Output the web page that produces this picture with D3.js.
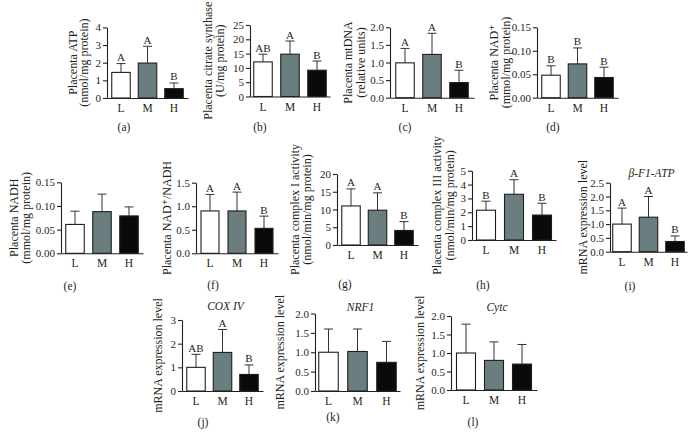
<!DOCTYPE html>
<html><head><meta charset="utf-8">
<script src="https://cdn.jsdelivr.net/npm/d3@7"></script>
<style>
html,body{margin:0;padding:0;background:#fff;}
svg{display:block;font-family:"Liberation Serif","DejaVu Serif",serif;}
</style></head><body>
<svg id="c" width="690" height="445"></svg>
<script>
// ---------------- DATA ----------------
const categories = ["L", "M", "H"];
const panelIds = ["(a)","(b)","(c)","(d)","(e)","(f)","(g)","(h)","(i)","(j)","(k)","(l)"];
const yTitles = [
  ["Placenta ATP", "(nmol/mg protein)"],
  ["Placenta citrate synthase", "(U/mg protein)"],
  ["Placenta mtDNA", "(relative units)"],
  ["Placenta NAD\u207A", "(mmol/mg protein)"],
  ["Placenta NADH", "(mmol/mg protein)"],
  ["Placenta NAD\u207A/NADH"],
  ["Placenta complex I activity", "(nmol/min/mg protein)"],
  ["Placenta complex III activity", "(nmol/min/mg protein)"],
  ["mRNA expression level"],
  ["mRNA expression level"],
  ["mRNA expression level"],
  ["mRNA expression level"]
];
const geneTitles = ["", "", "", "", "", "", "", "", "\u03B2-F1-ATP", "COX IV", "NRF1", "Cytc"];
const yMax = [4, 25, 2, 0.15, 0.15, 1.5, 20, 5, 2.5, 3, 2, 2];
const yStep = [1, 5, 0.5, 0.05, 0.05, 0.5, 5, 1, 0.5, 1, 0.5, 0.5];
const tickDecimals = [0, 0, 1, 2, 2, 1, 0, 0, 1, 0, 1, 1];
const means = [
  [1.45, 1.98, 0.53],
  [12.1, 14.8, 9.2],
  [0.99, 1.23, 0.43],
  [0.048, 0.072, 0.043],
  [0.061, 0.088, 0.079],
  [0.90, 0.90, 0.53],
  [11.0, 9.8, 4.1],
  [2.15, 3.3, 1.8],
  [1.0, 1.25, 0.37],
  [1.0, 1.63, 0.70],
  [1.0, 1.02, 0.74],
  [1.0, 0.80, 0.70]
];
const sds = [
  [0.50, 0.95, 0.32],
  [2.7, 4.6, 3.2],
  [0.41, 0.60, 0.35],
  [0.020, 0.034, 0.022],
  [0.028, 0.037, 0.019],
  [0.35, 0.40, 0.26],
  [4.8, 4.9, 2.5],
  [0.65, 1.05, 0.85],
  [0.58, 0.75, 0.20],
  [0.55, 0.97, 0.40],
  [0.60, 0.58, 0.54],
  [0.78, 0.50, 0.53]
];
const letters = [
  ["A","A","B"], ["AB","A","B"], ["A","A","B"], ["B","B","B"],
  ["","",""], ["A","A","B"], ["A","A","B"], ["B","A","B"],
  ["A","A","B"], ["AB","A","B"], ["","",""], ["","",""]
];

// ---------------- LAYOUT ----------------
const layout = [
  {ax:107, base:98,    top:27.4,  lc:121,   step:26.5, bw:18.5, t:[-34,-23],   px:124, py:131, gy:0},
  {ax:250, base:96.5,  top:25,    lc:263,   step:27,   bw:18.5, t:[-42,-30.5], px:260, py:131, gy:0},
  {ax:390, base:97.7,  top:27.3,  lc:405,   step:27,   bw:18.5, t:[-42,-29],   px:405, py:131, gy:0},
  {ax:537, base:97.7,  top:27.3,  lc:551,   step:26.5, bw:18.5, t:[-43,-31],   px:553, py:131, gy:0},
  {ax:61,  base:253.3, top:182.3, lc:75,    step:27,   bw:18.5, t:[-47,-35],   px:70,  py:290, gy:0},
  {ax:196, base:253.3, top:182.7, lc:210,   step:27,   bw:18,   t:[-29],       px:213, py:289, gy:0},
  {ax:337, base:245,   top:174,   lc:351,   step:26.5, bw:18.5, t:[-42,-30],   px:345, py:288, gy:0},
  {ax:472, base:240,   top:170.7, lc:486,   step:28,   bw:19,   t:[-35,-22],   px:483, py:289, gy:0},
  {ax:610, base:251.7, top:182.7, lc:622,   step:26.5, bw:18.5, t:[-27],       px:630, py:290, gy:177},
  {ax:182, base:391,   top:320,   lc:196,   step:26.5, bw:18.5, t:[-24],       px:203, py:426, gy:310},
  {ax:315, base:391,   top:313.5, lc:328.5, step:29,   bw:19.5, t:[-35],       px:333, py:421, gy:311},
  {ax:451, base:390,   top:316,   lc:466,   step:28,   bw:19,   t:[-31],       px:473, py:426, gy:311}
];
const fills = {L:"#ffffff", M:"#6a7e80", H:"#0a0a0a"};
const ink = "#231f20";
const FONT = "'Liberation Serif','DejaVu Serif',serif";

const svg = d3.select("#c");

layout.forEach((L, i) => {
  const g = svg.append("g");
  const pi = 1 - L.bw / L.step;
  const po = (L.lc - L.bw / 2 - L.ax) / L.step;
  const r1 = L.ax + L.step * (3 - pi + 2 * po);
  const x = d3.scaleBand().domain(categories).range([L.ax, r1]).paddingInner(pi).paddingOuter(po);
  const y = d3.scaleLinear().domain([0, yMax[i]]).range([L.base, L.top]);
  const ticks = d3.range(0, yMax[i] + yStep[i] / 2, yStep[i]);

  // y axis
  const ya = g.append("g").attr("transform", `translate(${L.ax},0)`)
    .call(d3.axisLeft(y).tickValues(ticks).tickFormat(d3.format(`.${tickDecimals[i]}f`))
      .tickSize(4).tickSizeOuter(0).tickPadding(2));
  ya.select(".domain").attr("stroke", ink).attr("stroke-width", 1.1);
  ya.selectAll(".tick line").attr("stroke", ink).attr("stroke-width", 1.1);
  ya.selectAll(".tick text").attr("fill", ink).style("font-size", "11px").style("font-family", FONT);

  // bars
  categories.forEach((c, k) => {
    g.append("rect")
      .attr("x", x(c)).attr("width", x.bandwidth())
      .attr("y", y(means[i][k])).attr("height", L.base - y(means[i][k]))
      .attr("fill", fills[c]).attr("stroke", "#1e1e1e").attr("stroke-width", 1.1);
    const cx = x(c) + x.bandwidth() / 2;
    const yt = y(means[i][k] + sds[i][k]);
    g.append("line").attr("x1", cx).attr("x2", cx).attr("y1", y(means[i][k])).attr("y2", yt)
      .attr("stroke", "#333").attr("stroke-width", 1);
    g.append("line").attr("x1", cx - 4.5).attr("x2", cx + 4.5).attr("y1", yt).attr("y2", yt)
      .attr("stroke", "#333").attr("stroke-width", 1);
    if (letters[i][k]) {
      g.append("text").attr("x", cx).attr("y", yt - 2.5).attr("text-anchor", "middle")
        .attr("fill", ink).style("font-size", "11px").text(letters[i][k]);
    }
  });

  // x axis
  const xa = g.append("g").attr("transform", `translate(0,${L.base})`)
    .call(d3.axisBottom(x).tickSize(0).tickPadding(6));
  xa.select(".domain").attr("stroke", ink).attr("stroke-width", 1.1);
  xa.selectAll(".tick text").attr("fill", ink).style("font-size", "11.5px").style("font-family", FONT);

  // y title(s)
  const cy = (L.base + L.top) / 2;
  yTitles[i].forEach((t, j) => {
    g.append("text")
      .attr("transform", `translate(${L.ax + L.t[j]},${cy}) rotate(-90)`)
      .attr("text-anchor", "middle").attr("dominant-baseline", "central")
      .attr("fill", ink).style("font-size", "12px").text(t);
  });

  // gene title
  if (geneTitles[i]) {
    g.append("text").attr("x", (L.ax + r1) / 2 + 3).attr("y", L.gy)
      .attr("text-anchor", "middle").attr("fill", ink)
      .style("font-size", "11.5px").style("font-style", "italic").text(geneTitles[i]);
  }

  // panel id
  g.append("text").attr("x", L.px).attr("y", L.py).attr("text-anchor", "middle")
    .attr("fill", ink).style("font-size", "11.5px").text(panelIds[i]);
});
</script>
</body></html>
